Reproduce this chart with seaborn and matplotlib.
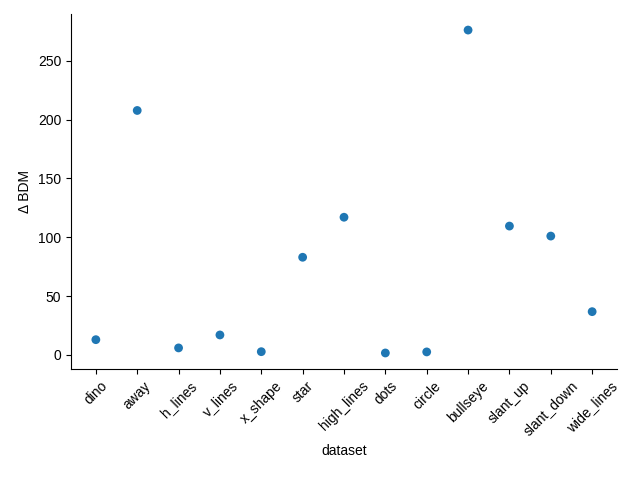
import matplotlib
matplotlib.use("Agg")
import pandas as pd
import matplotlib.pyplot as plt
import seaborn as sns

# plain black text / spines like the reference
sns.set_style("ticks", {"text.color": "black", "axes.labelcolor": "black",
                        "xtick.color": "black", "ytick.color": "black",
                        "axes.edgecolor": "black"})
plt.rcParams["font.family"] = ["Liberation Sans", "DejaVu Sans"]

# --- Data ---
datasets = ["dino", "away", "h_lines", "v_lines", "x_shape", "star", "high_lines",
            "dots", "circle", "bullseye", "slant_up", "slant_down", "wide_lines"]
delta_bdm = [13.0, 207.7, 6.0, 17.0, 2.8, 83.0, 117.0, 1.7, 2.6, 276.0, 109.5, 101.0, 36.8]

df = pd.DataFrame({"dataset": datasets, "delta": delta_bdm})

fig, ax = plt.subplots(figsize=(6.4, 4.8), dpi=100)
sns.scatterplot(data=df, x="dataset", y="delta", color="#1f77b4", s=40,
                edgecolor="none", ax=ax)
ax.set_ylabel("Δ BDM")
ax.set_xlabel("dataset")
ax.tick_params(axis="x", rotation=45)
sns.despine(ax=ax)
fig.subplots_adjust(left=0.111, right=0.964, top=0.971, bottom=0.231)
plt.savefig("out.png", dpi=100)
